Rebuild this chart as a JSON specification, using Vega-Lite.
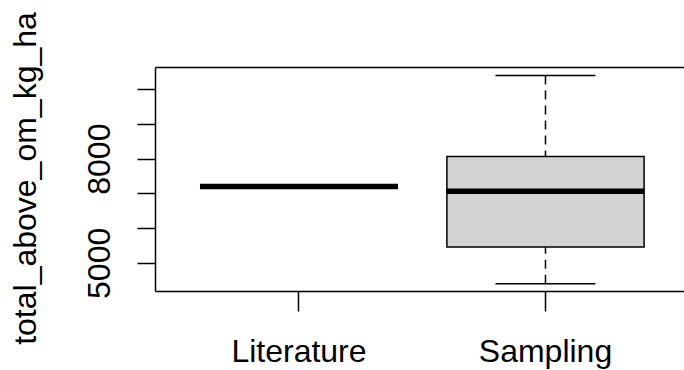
{
  "$schema": "https://vega.github.io/schema/vega-lite/v6.json",
  "width": 529,
  "height": 224,
  "autosize": {"type": "none"},
  "padding": {"left": 155, "top": 67, "right": 0, "bottom": 79},
  "background": "white",
  "config": {
    "view": {"stroke": null},
    "font": "Liberation Sans",
    "axisY": {
      "domain": true, "domainColor": "black", "domainWidth": 1.5,
      "grid": false,
      "ticks": true, "tickColor": "black", "tickWidth": 1.5, "tickSize": 18,
      "labelAngle": -90, "labelAlign": "center", "labelBaseline": "alphabetic",
      "labelPadding": 28, "labelFontSize": 32, "labelFont": "Liberation Sans", "labelColor": "black",
      "labelOverlap": false, "labelFlush": false,
      "titleFont": "Liberation Sans", "titleFontSize": 32, "titleFontWeight": "normal", "titleColor": "black",
      "titleAngle": 270, "titleAlign": "center", "titleBaseline": "alphabetic",
      "titleX": -120, "titleY": 111
    },
    "axisX": {
      "domain": true, "domainColor": "black", "domainWidth": 1.5,
      "grid": false,
      "tickColor": "black", "tickWidth": 1.5, "tickSize": 20,
      "labelAngle": 0, "labelBaseline": "alphabetic", "labelPadding": 50,
      "labelFontSize": 32, "labelFont": "Liberation Sans", "labelColor": "black",
      "labelOverlap": false, "labelFlush": false
    }
  },
  "data": {
    "values": [
      {"group": "Literature", "lower": 7201, "q1": 7201, "median": 7201, "q3": 7201, "upper": 7201},
      {"group": "Sampling", "lower": 4397, "q1": 5460, "median": 7058, "q3": 8064, "upper": 10391}
    ]
  },
  "resolve": {"axis": {"x": "independent"}},
  "layer": [
    {
      "mark": {"type": "rule", "color": "black", "strokeWidth": 1.5, "strokeDash": [9, 6]},
      "encoding": {
        "x": {"field": "group", "type": "nominal", "sort": ["Literature", "Sampling"],
          "scale": {"type": "band", "domain": ["Literature", "Sampling"], "paddingInner": 0, "paddingOuter": 0.073, "align": 0.576},
          "axis": {"orient": "bottom", "title": null}},
        "y": {"field": "lower", "type": "quantitative", "title": "total_above_om_kg_ha",
          "scale": {"domain": [4190, 10638], "nice": false, "zero": false},
          "axis": {"values": [5000, 6000, 7000, 8000, 9000, 10000], "labelExpr": "datum.value == 5000 || datum.value == 8000 ? datum.label : ''", "format": "d"}},
        "y2": {"field": "q1"}
      }
    },
    {
      "mark": {"type": "rule", "color": "black", "strokeWidth": 1.5, "strokeDash": [9, 6]},
      "encoding": {
        "x": {"field": "group", "type": "nominal", "sort": ["Literature", "Sampling"],
          "scale": {"type": "band", "domain": ["Literature", "Sampling"], "paddingInner": 0, "paddingOuter": 0.073, "align": 0.576},
          "axis": {"orient": "top", "title": null, "ticks": false, "labels": false}},
        "y": {"field": "upper", "type": "quantitative", "title": "total_above_om_kg_ha",
          "scale": {"domain": [4190, 10638], "nice": false, "zero": false},
          "axis": {"values": [5000, 6000, 7000, 8000, 9000, 10000], "labelExpr": "datum.value == 5000 || datum.value == 8000 ? datum.label : ''", "format": "d"}},
        "y2": {"field": "q3"}
      }
    },
    {
      "mark": {"type": "bar", "fill": "#d3d3d3", "stroke": "black", "strokeWidth": 1.5, "width": {"band": 0.8}},
      "encoding": {
        "x": {"field": "group", "type": "nominal", "sort": ["Literature", "Sampling"],
          "scale": {"type": "band", "domain": ["Literature", "Sampling"], "paddingInner": 0, "paddingOuter": 0.073, "align": 0.576},
          "axis": null},
        "y": {"field": "q1", "type": "quantitative", "title": "total_above_om_kg_ha",
          "scale": {"domain": [4190, 10638], "nice": false, "zero": false},
          "axis": {"values": [5000, 6000, 7000, 8000, 9000, 10000], "labelExpr": "datum.value == 5000 || datum.value == 8000 ? datum.label : ''", "format": "d"}},
        "y2": {"field": "q3"}
      }
    },
    {
      "mark": {"type": "tick", "color": "black", "opacity": 1, "size": 100, "thickness": 1.5},
      "encoding": {
        "x": {"field": "group", "type": "nominal", "sort": ["Literature", "Sampling"],
          "scale": {"type": "band", "domain": ["Literature", "Sampling"], "paddingInner": 0, "paddingOuter": 0.073, "align": 0.576},
          "axis": null},
        "y": {"field": "lower", "type": "quantitative", "title": "total_above_om_kg_ha",
          "scale": {"domain": [4190, 10638], "nice": false, "zero": false},
          "axis": {"values": [5000, 6000, 7000, 8000, 9000, 10000], "labelExpr": "datum.value == 5000 || datum.value == 8000 ? datum.label : ''", "format": "d"}}
      }
    },
    {
      "mark": {"type": "tick", "color": "black", "opacity": 1, "size": 100, "thickness": 1.5},
      "encoding": {
        "x": {"field": "group", "type": "nominal", "sort": ["Literature", "Sampling"],
          "scale": {"type": "band", "domain": ["Literature", "Sampling"], "paddingInner": 0, "paddingOuter": 0.073, "align": 0.576},
          "axis": null},
        "y": {"field": "upper", "type": "quantitative", "title": "total_above_om_kg_ha",
          "scale": {"domain": [4190, 10638], "nice": false, "zero": false},
          "axis": {"values": [5000, 6000, 7000, 8000, 9000, 10000], "labelExpr": "datum.value == 5000 || datum.value == 8000 ? datum.label : ''", "format": "d"}}
      }
    },
    {
      "mark": {"type": "tick", "color": "black", "opacity": 1, "size": 198, "thickness": 5.5},
      "encoding": {
        "x": {"field": "group", "type": "nominal", "sort": ["Literature", "Sampling"],
          "scale": {"type": "band", "domain": ["Literature", "Sampling"], "paddingInner": 0, "paddingOuter": 0.073, "align": 0.576},
          "axis": null},
        "y": {"field": "median", "type": "quantitative", "title": "total_above_om_kg_ha",
          "scale": {"domain": [4190, 10638], "nice": false, "zero": false},
          "axis": {"values": [5000, 6000, 7000, 8000, 9000, 10000], "labelExpr": "datum.value == 5000 || datum.value == 8000 ? datum.label : ''", "format": "d"}}
      }
    }
  ]
}
